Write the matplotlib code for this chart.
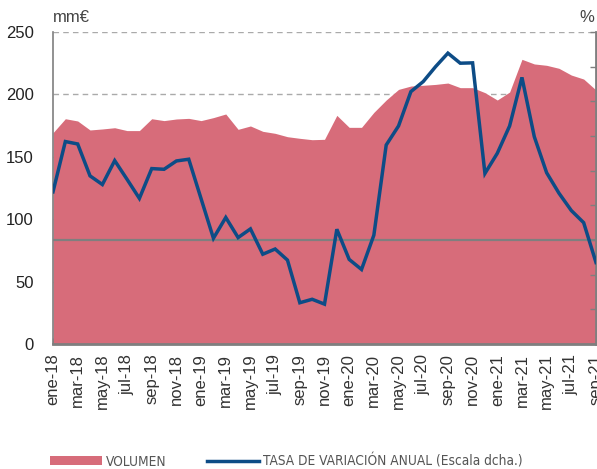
import matplotlib
matplotlib.use("Agg")
import matplotlib.pyplot as plt
from matplotlib.patches import Patch
from matplotlib.lines import Line2D
from matplotlib import font_manager

months = ["ene", "feb", "mar", "abr", "may", "jun", "jul", "ago", "sep", "oct", "nov", "dic"]
categories = [f"{months[m]}-{y}" for y in (18, 19, 20, 21) for m in range(12)][:45]

volumen = [169.3, 180.5, 178.7, 171.5, 172.3, 173.3, 171.0, 171.0, 180.5, 179.0,
           180.3, 180.8, 179.0, 181.4, 184.3, 172.0, 174.7, 170.4, 168.8, 166.1,
           164.8, 163.7, 164.0, 183.2, 173.6, 173.6, 185.6, 195.5, 204.0, 206.7,
           207.3, 208.0, 209.1, 205.4, 205.4, 201.4, 195.5, 201.9, 228.1, 224.4,
           223.3, 220.9, 215.5, 212.3, 203.5]

tasa = [13.9, 28.4, 27.7, 18.5, 16.0, 22.9, 17.5, 12.0, 20.6, 20.4,
        22.8, 23.3, 11.9, 0.5, 6.5, 0.7, 3.2, -4.1, -2.6, -5.8,
        -18.1, -17.1, -18.5, 3.1, -5.6, -8.5, 1.4, 27.4, 32.9, 42.8,
        45.7, 50.0, 53.9, 51.0, 51.1, 19.2, 25.0, 32.9, 46.9, 29.8,
        19.4, 13.5, 8.5, 5.0, -6.5]

left_ticks = [0, 50, 100, 150, 200, 250]
right_ticks = [-30, -20, -10, 0, 10, 20, 30, 40, 50, 60]

pink = "#D76C7A"
blue = "#0D4C86"
gray = "#7F7F7F"

plt.rcParams["font.family"] = ["Liberation Sans", "DejaVu Sans"]

# pick a regular-weight condensed font for the legend if one is installed
def is_regular(f):
    return f.style == "normal" and f.weight in (400, "normal", "regular", "book")

narrow = None
best = -1
for f in font_manager.fontManager.ttflist:
    n = f.name.lower()
    cond = ("narrow" in n or "condensed" in n or f.stretch in ("condensed", "semi-condensed"))
    if cond and is_regular(f):
        score = 2 if "liberation" in n else (1 if "dejavu" in n else 0)
        if score > best:
            best = score
            narrow = f
if narrow is not None:
    leg_font = font_manager.FontProperties(fname=narrow.fname, size=9.8)
else:
    leg_font = font_manager.FontProperties(family="Liberation Sans", size=9)

W, H = 597, 469
fig = plt.figure(figsize=(W / 100, H / 100), dpi=100)
ax = fig.add_axes([53 / W, 1 - 344 / H, (596 - 53) / W, (344 - 32) / H])

x = list(range(len(categories)))
ax.set_axisbelow(True)
ax.yaxis.grid(True, color="#AAAAAA", linestyle=(0, (4, 3)), linewidth=1.0)
ax.fill_between(x, 0, volumen, color=pink, linewidth=0, zorder=2)
ax.set_xlim(0, len(categories) - 1)
ax.set_ylim(0, 250)
ax.set_yticks(left_ticks)
ax.tick_params(axis="y", length=0, pad=14, labelsize=12, labelcolor="#222222")
ax.set_xticks(x[::2])
ax.set_xticklabels(categories[::2], rotation=90, fontsize=12, color="#333333")
ax.tick_params(axis="x", direction="in", length=4, color=gray, width=1, pad=7)

ax.spines["top"].set_visible(False)
for s in ("left", "bottom", "right"):
    ax.spines[s].set_color(gray)
ax.spines["left"].set_linewidth(1.2)
ax.spines["bottom"].set_linewidth(2.0)

ax2 = ax.twinx()
ax2.set_ylim(-30, 60)
ax2.set_yticks(right_ticks)
ax2.tick_params(axis="y", direction="in", length=4, color=gray, width=1, labelright=False)
ax2.axhline(0, color=gray, linewidth=1.6, zorder=3)
ax2.plot(x, tasa, color=blue, linewidth=2.5, zorder=4, solid_joinstyle="miter")
for s in ("top", "left", "bottom"):
    ax2.spines[s].set_visible(False)
ax2.spines["right"].set_color(gray)
ax2.spines["right"].set_linewidth(2.0)

fig.text(53 / W, 1 - 17 / H, "mm€", fontsize=12, color="#444444", ha="left", va="center")
fig.text(594 / W, 1 - 17 / H, "%", fontsize=12, color="#444444", ha="right", va="center")

handles = [Patch(facecolor=pink, edgecolor="none"),
           Line2D([0], [0], color=blue, linewidth=2.5)]
leg = fig.legend(handles, ["VOLUMEN", "TASA DE VARIACIÓN ANUAL (Escala dcha.)"],
                 loc="center left", bbox_to_anchor=(50 / W, 1 - 461 / H), ncol=2,
                 frameon=False, prop=leg_font, handlelength=3.8, handleheight=0.65,
                 handletextpad=0.3, columnspacing=3.0, borderaxespad=0, borderpad=0)
for t in leg.get_texts():
    t.set_color("#555555")

fig.savefig("out.png", dpi=100)
